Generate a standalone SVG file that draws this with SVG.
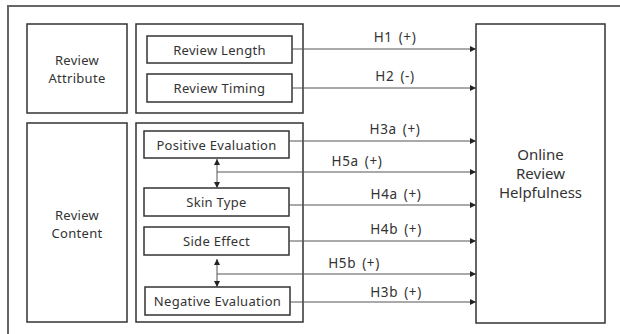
<svg xmlns="http://www.w3.org/2000/svg" width="620" height="334" viewBox="0 0 620 334">
  <defs>
    <marker id="arrow" viewBox="0 0 10 10" refX="10" refY="5" markerWidth="6" markerHeight="6" markerUnits="userSpaceOnUse" orient="auto-start-reverse">
      <path d="M0,0 L10,5 L0,10 Z" fill="#222"/>
    </marker>
  </defs>
  <style>
    .box { fill: #fff; stroke: #333; stroke-width: 1.5; }
    .frame { fill: none; stroke: #666; stroke-width: 2; }
    .lbl { font-family: "Noto Sans", "Open Sans", sans-serif; font-size: 13px; letter-spacing: 0.3px; fill: #333; text-anchor: middle; }
    .big { font-size: 15px; letter-spacing: 0; }
    .hyp { font-family: "Noto Sans", "Open Sans", sans-serif; font-size: 13.5px; letter-spacing: 0.6px; word-spacing: 2px; fill: #333; text-anchor: middle; }
    .conn { stroke: #555; stroke-width: 1; fill: none; }
  </style>
  <rect width="620" height="334" fill="#fff"/>
  <!-- outer frame, open to the right and bottom -->
  <path class="frame" d="M8,334 L8,6 L620,6"/>

  <g id="review-attribute">
    <rect class="box" x="27" y="24" width="100" height="89"/>
    <text class="lbl" x="77" y="65">Review</text>
    <text class="lbl" x="77" y="83">Attribute</text>
  </g>
  <g id="attribute-group">
    <rect class="box" x="136" y="24" width="167" height="89"/>
  </g>
  <g id="review-length">
    <rect class="box" x="147" y="36" width="145" height="27"/>
    <text class="lbl" x="219.5" y="54.5">Review Length</text>
  </g>
  <g id="review-timing">
    <rect class="box" x="147" y="74" width="145" height="28"/>
    <text class="lbl" x="219.5" y="93">Review Timing</text>
  </g>

  <g id="review-content">
    <rect class="box" x="27" y="123" width="100" height="199"/>
    <text class="lbl" x="77" y="220">Review</text>
    <text class="lbl" x="77" y="238">Content</text>
  </g>
  <g id="content-group">
    <rect class="box" x="136" y="123" width="167" height="199"/>
  </g>
  <g id="positive-evaluation">
    <rect class="box" x="144" y="131" width="145" height="27"/>
    <text class="lbl" x="216.5" y="149.5">Positive Evaluation</text>
  </g>
  <g id="skin-type">
    <rect class="box" x="144" y="188" width="145" height="28"/>
    <text class="lbl" x="216.5" y="207">Skin Type</text>
  </g>
  <g id="side-effect">
    <rect class="box" x="144" y="227" width="145" height="28"/>
    <text class="lbl" x="216.5" y="246">Side Effect</text>
  </g>
  <g id="negative-evaluation">
    <rect class="box" x="145" y="287" width="145" height="28"/>
    <text class="lbl" x="217.5" y="306">Negative Evaluation</text>
  </g>

  <g id="online-review-helpfulness">
    <rect class="box" x="476" y="24" width="129" height="299"/>
    <text class="lbl big" x="540.5" y="160">Online</text>
    <text class="lbl big" x="540.5" y="179">Review</text>
    <text class="lbl big" x="540.5" y="198">Helpfulness</text>
  </g>

  <g id="connectors">
    <line class="conn" x1="292" y1="49" x2="476" y2="49" marker-end="url(#arrow)"/>
    <line class="conn" x1="292" y1="88" x2="476" y2="88" marker-end="url(#arrow)"/>
    <line class="conn" x1="289" y1="141" x2="476" y2="141" marker-end="url(#arrow)"/>
    <line class="conn" x1="217" y1="172" x2="476" y2="172" marker-end="url(#arrow)"/>
    <line class="conn" x1="217" y1="159" x2="217" y2="188" marker-start="url(#arrow)" marker-end="url(#arrow)"/>
    <line class="conn" x1="289" y1="205" x2="476" y2="205" marker-end="url(#arrow)"/>
    <line class="conn" x1="289" y1="241" x2="476" y2="241" marker-end="url(#arrow)"/>
    <line class="conn" x1="217" y1="274" x2="476" y2="274" marker-end="url(#arrow)"/>
    <line class="conn" x1="217" y1="259" x2="217" y2="287" marker-start="url(#arrow)" marker-end="url(#arrow)"/>
    <line class="conn" x1="290" y1="302" x2="476" y2="302" marker-end="url(#arrow)"/>
    <text class="hyp" x="395" y="42">H1 (+)</text>
    <text class="hyp" x="395" y="81">H2 (-)</text>
    <text class="hyp" x="395" y="134">H3a (+)</text>
    <text class="hyp" x="357" y="166">H5a (+)</text>
    <text class="hyp" x="396" y="199">H4a (+)</text>
    <text class="hyp" x="396" y="234">H4b (+)</text>
    <text class="hyp" x="354" y="268">H5b (+)</text>
    <text class="hyp" x="396" y="297">H3b (+)</text>
  </g>
</svg>
